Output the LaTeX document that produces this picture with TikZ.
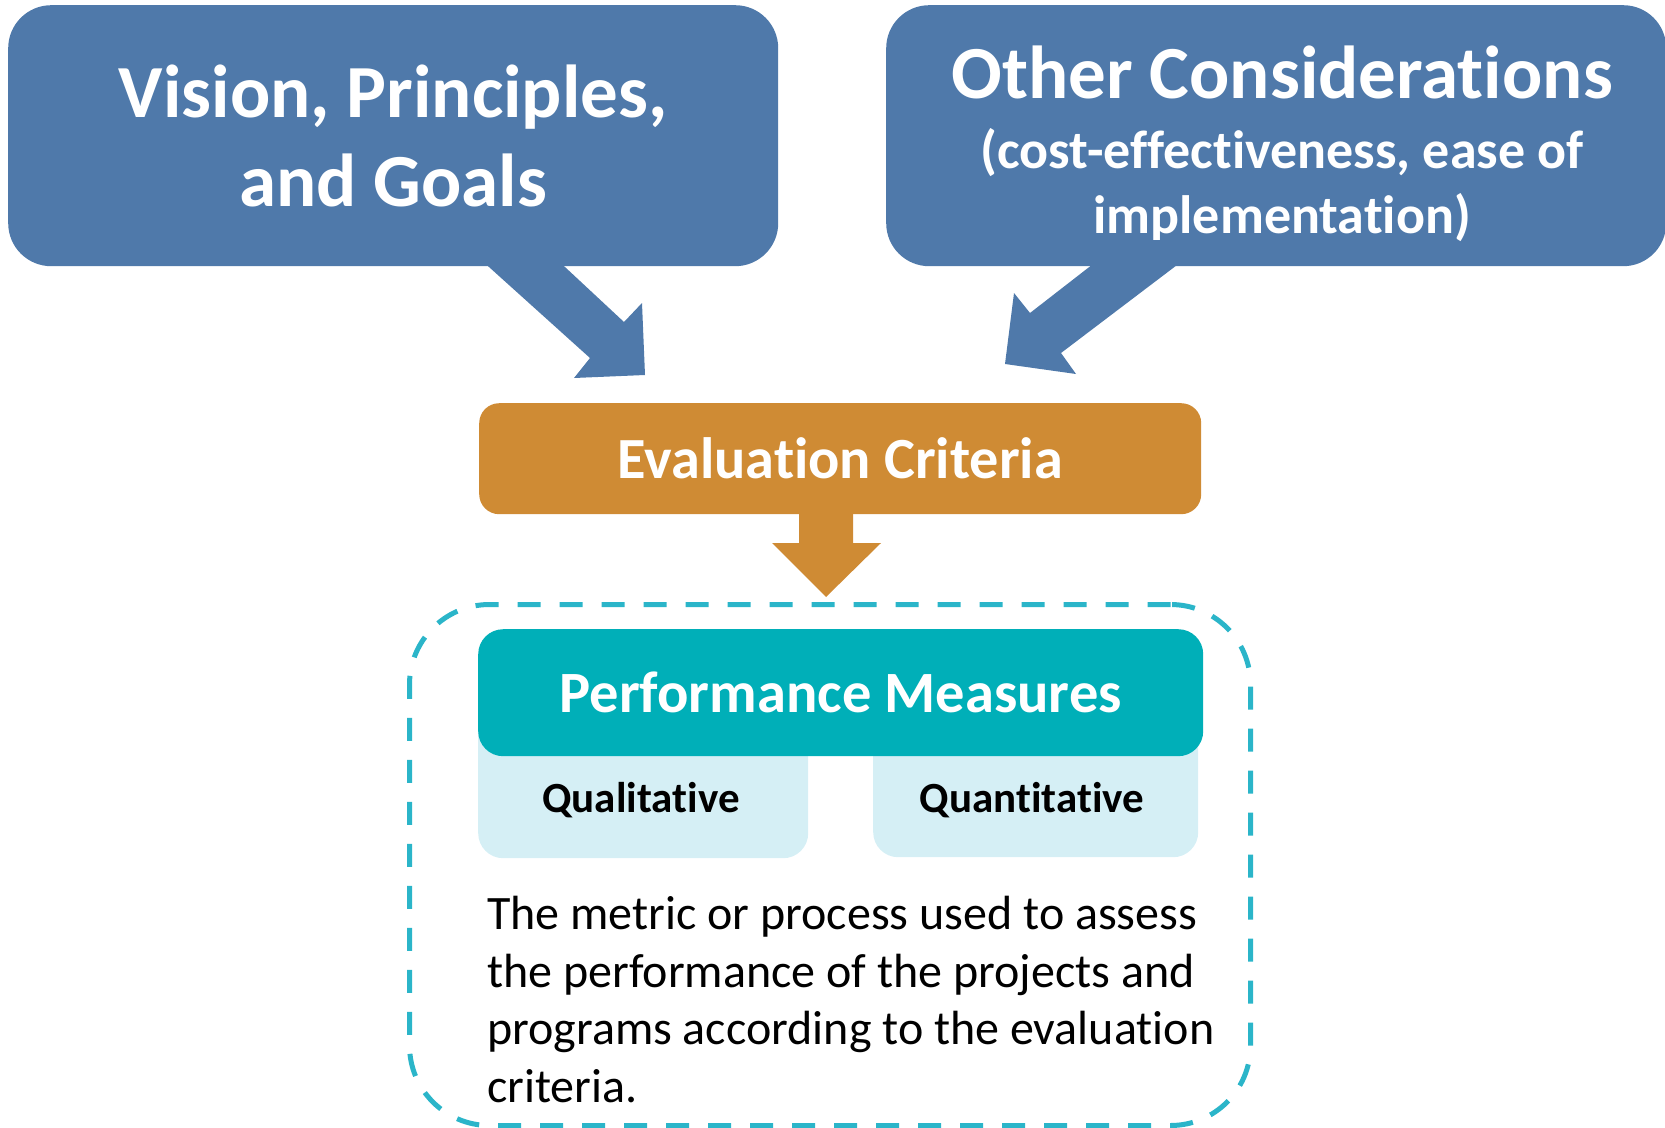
\documentclass[tikz,border=0pt]{standalone}
\usepackage{fontspec}
\setmainfont{Carlito}[Ligatures={NoCommon}]
\usetikzlibrary{positioning}
\definecolor{vision_blue}{HTML}{4F79AA}
\definecolor{criteria_orange}{HTML}{CF8B34}
\definecolor{measure_teal}{HTML}{00AFB8}
\definecolor{kind_blue}{HTML}{D5EFF5}
\definecolor{frame_teal}{HTML}{2BB5C9}
\newcommand{\asidefont}{\fontsize{54}{63}\selectfont}
\tikzset{
  source_font/.style = {font=\fontsize{75}{89}\selectfont\bfseries},
  criteria_font/.style = {font=\fontsize{58.3}{70}\selectfont\bfseries},
  measure_font/.style = {font=\fontsize{58.5}{70}\selectfont\bfseries},
  kind_font/.style = {font=\fontsize{43}{52}\selectfont\bfseries},
  note_font/.style = {font=\fontsize{48}{57.5}\selectfont}
}
\tikzset{
  plain_box/.style = {anchor=north west, inner sep=0, align=center},
  source_box/.style = {plain_box, fill=vision_blue, rounded corners=43, minimum height=261},
  source_text/.style = {source_font, text=white, align=center, inner sep=0},
  criteria_box/.style = {plain_box, criteria_font, fill=criteria_orange, text=white, rounded corners=20, minimum width=722, minimum height=111},
  measure_box/.style = {plain_box, measure_font, fill=measure_teal, text=white, rounded corners=25, minimum width=725, minimum height=127},
  kind_box/.style = {plain_box, fill=kind_blue, rounded corners=25, minimum height=158},
  kind_text/.style = {kind_font, anchor=base, inner sep=0},
  note_text/.style = {note_font, align=left, inner sep=0},
  dash_frame/.style = {plain_box, draw=frame_teal, line width=5, dash pattern=on 23 off 19, rounded corners=80, minimum width=841, minimum height=521},
  source_arrow/.style = {fill=vision_blue},
  criteria_arrow/.style = {fill=criteria_orange}
}

\begin{document}
\begin{tikzpicture}[x=1pt, y=-1pt]
    \useasboundingbox (0,0) rectangle (1665,1127);

    % Frame round the measures
    \node[dash_frame] at (407,602) (frame) {};

    % Sources
    \node[source_box, minimum width=770] at (8,5) (vision) {};
    \node[source_text] at (vision.center) (vision_text) {
        Vision, Principles,\\
        and Goals
        };
    \node[source_box, minimum width=780] at (886,5) (others) {};
    \node[source_text, xshift=6, yshift=-8.5] at (others.center) (others_text) {
        Other Considerations\\[-19pt]
        \asidefont (cost-effectiveness, ease of\\[-24pt]
        \asidefont implementation)
        };

    % Arrows
    \fill[source_arrow] (459,240) -- (536,240) -- (624,322) -- (642,303)
        -- (645,375) -- (574,378) -- (590,358) -- cycle;
    \fill[source_arrow] (1124,240) -- (1210,240) -- (1061,353) -- (1076,374)
        -- (1005,364) -- (1014,293) -- (1030,313) -- cycle;
    \fill[criteria_arrow] (799,500) -- (853,500) -- (853,543) -- (881,543)
        -- (826,597) -- (772,543) -- (799,543) -- cycle;

    % Criteria
    \node[criteria_box] at (479,403) (criteria) {Evaluation Criteria};

    % Measures
    \node[kind_box, minimum width=330] at (478,700) (qual) {};
    \node[kind_box, minimum width=325] at (873,699) (quant) {};
    \node[kind_text] at (641,812) (qual_text) {Qualitative};
    \node[kind_text] at (1032,812) (quant_text) {Quantitative};
    \node[measure_box] at (478,629) (measures) {Performance Measures};

    %All content
    \node[note_text, anchor=base west] at (487,1102) (note) {
        The metric or process used to assess\\
        the performance of the projects and\\
        programs according to the evaluation\\
        criteria.
        };
\end{tikzpicture}
\end{document}
